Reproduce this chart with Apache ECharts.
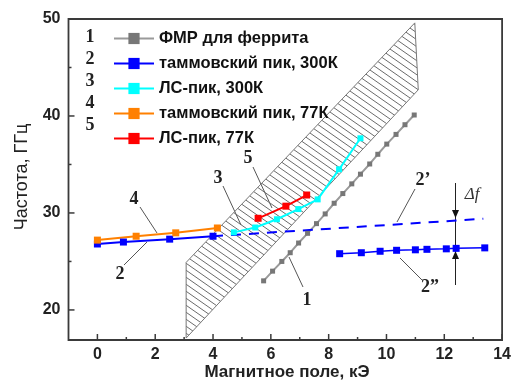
<!DOCTYPE html>
<html>
<head>
<meta charset="utf-8">
<script src="https://cdn.jsdelivr.net/npm/echarts@6/dist/echarts.min.js"></script>
<style>
  html, body { margin: 0; padding: 0; background: #fff; }
  #chart { width: 514px; height: 385px; }
</style>
</head>
<body>
<div id="chart"></div>
<script>
// 1 - FMR of ferrite
var fmrX = [5.75, 6.06, 6.38, 6.67, 6.96, 7.27, 7.58, 7.88, 8.19, 8.49, 8.80, 9.10, 9.42, 9.70, 10.01, 10.33, 10.64, 10.96];
var fmrY = [23.0, 24.0, 25.0, 25.9, 26.9, 27.9, 28.9, 29.9, 31.0, 32.0, 33.0, 34.0, 35.05, 36.05, 37.1, 38.1, 39.1, 40.1];
// 2 - Tamm peak 300K
var tamm300X = [0, 0.9, 2.5, 4.0];
var tamm300Y = [26.8, 27.0, 27.3, 27.6];
// 2' (dashed) and 2'' branches
var tammDashX = [4.0, 13.35];
var tammDashY = [27.6, 29.4];
var tammLowX = [8.38, 9.13, 9.78, 10.35, 11.0, 11.4, 12.07, 12.41, 13.4];
var tammLowY = [25.8, 25.9, 26.05, 26.15, 26.2, 26.25, 26.3, 26.35, 26.4];
// 3 - LS peak 300K
var ls300X = [4.72, 5.46, 6.21, 6.95, 7.62, 8.36, 9.1];
var ls300Y = [28.0, 28.5, 29.35, 30.4, 31.4, 34.5, 37.7];
// 4 - Tamm peak 77K
var tamm77X = [0, 1.34, 2.71, 4.15];
var tamm77Y = [27.2, 27.6, 27.95, 28.45];
// 5 - LS peak 77K
var ls77X = [5.56, 6.52, 7.24];
var ls77Y = [29.45, 30.7, 31.85];
// hatched band
var bandX = [3.07, 3.07, 10.98, 11.1];
var bandY = [17.1, 24.9, 49.6, 42.7];

var xMin = -1, xMax = 14, yMin = 16.9, yMax = 50;
var xLabels = [0, 2, 4, 6, 8, 10, 12, 14];
var xMinor = [1, 3, 5, 7, 9, 11, 13];
var yLabels = [20, 30, 40, 50];
var yMinor = [25, 35, 45];

var legendNames = ["ФМР для феррита", "таммовский пик, 300К", "ЛС-пик, 300К", "таммовский пик, 77К", "ЛС-пик, 77К"];

function pairs(xs, ys) {
  return xs.map(function (x, i) { return [x, ys[i]]; });
}

// hatch pattern
var hatch = document.createElement("canvas");
var hw = 10, hh = 7;
hatch.width = hw;
hatch.height = hh;
var hctx = hatch.getContext("2d");
hctx.strokeStyle = "#6a6a6a";
hctx.lineWidth = 1;
for (var k = -1; k <= 1; k++) {
  hctx.beginPath();
  hctx.moveTo(k * hw - hw, -hh);
  hctx.lineTo(k * hw + 2 * hw, 2 * hh);
  hctx.stroke();
}

var font = "Arial, 'Liberation Sans', sans-serif";
var serif = "'Liberation Serif', 'DejaVu Serif', serif";
var frameColor = "#3a3a3a";

var charts = echarts.init(document.getElementById("chart"));

function lineSeries(name, xs, ys, color, size, lw) {
  return {
    name: name,
    type: "line",
    data: pairs(xs, ys),
    symbol: "rect",
    symbolSize: size,
    showAllSymbol: true,
    itemStyle: { color: color },
    lineStyle: { color: color, width: lw },
    animation: false,
  };
}

var gray = lineSeries(legendNames[0], fmrX, fmrY, "#777", 5, 2);
gray.lineStyle.color = "#9a9a9a";

var labelStyle = { margin: 8, fontFamily: font, fontWeight: "bold", fontSize: 16, color: "#222" };

var axesOption = {
  animation: false,
  grid: { left: 68.5, right: 8, top: 19, bottom: 45 },
  xAxis: {
    type: "value",
    min: xMin,
    max: xMax,
    axisLine: { show: false, onZero: false },
    axisTick: { show: false },
    splitLine: { show: false },
    axisLabel: Object.assign({ customValues: xLabels }, labelStyle, { margin: 7 }),
  },
  yAxis: {
    type: "value",
    min: yMin,
    max: yMax,
    axisLine: { show: false, onZero: false },
    axisTick: { show: false },
    splitLine: { show: false },
    axisLabel: Object.assign({ customValues: yLabels }, labelStyle),
  },
};

// legend numbers, axis titles and in-plot annotations
var numStyle = { fontFamily: serif, fontWeight: "bold", fontSize: 18, fill: "#222" };
var g = [];
["1", "2", "3", "4", "5"].forEach(function (t, i) {
  g.push({ type: "text", x: 90, y: 37 + i * 22, style: Object.assign({ text: t, align: "center", verticalAlign: "middle" }, numStyle) });
});
g.push({ type: "text", x: 287, y: 372, style: { text: "Магнитное поле, кЭ", align: "center", verticalAlign: "middle", fontFamily: font, fontWeight: "bold", fontSize: 17, fill: "#222" } });
g.push({ type: "text", x: 22, y: 177, rotation: Math.PI / 2, style: { text: "Частота, ГГц", align: "center", verticalAlign: "middle", fontFamily: font, fontSize: 18, fill: "#222" } });
var notes = [
  { t: "1", x: 307, y: 300, l: [289, 257, 303, 287] },
  { t: "2", x: 120, y: 274, l: [124, 265, 147, 242] },
  { t: "3", x: 218, y: 178, l: [223, 186, 241, 225] },
  { t: "4", x: 134, y: 199, l: [140, 207, 157, 233] },
  { t: "5", x: 248, y: 158, l: [253, 167, 272, 208] },
  { t: "2’", x: 423, y: 180, l: [415, 189, 397, 222] },
  { t: "2”", x: 430, y: 287, l: [400, 258, 422, 280] },
];
notes.forEach(function (n) {
  g.push({ type: "line", shape: { x1: n.l[0], y1: n.l[1], x2: n.l[2], y2: n.l[3] }, style: { stroke: "#555", lineWidth: 1 } });
  g.push({ type: "text", x: n.x, y: n.y, style: Object.assign({ text: n.t, align: "center", verticalAlign: "middle" }, numStyle) });
});
// delta f marker
g.push({ type: "line", shape: { x1: 455.5, y1: 183, x2: 455.5, y2: 285 }, style: { stroke: "#222", lineWidth: 1 } });
g.push({ type: "polygon", shape: { points: [[452, 210], [459, 210], [455.5, 218]] }, style: { fill: "#111" } });
g.push({ type: "polygon", shape: { points: [[452, 259], [459, 259], [455.5, 251]] }, style: { fill: "#111" } });
g.push({ type: "text", x: 472, y: 195, style: { text: "Δf", align: "center", verticalAlign: "middle", fontFamily: serif, fontStyle: "italic", fontSize: 17, fill: "#333" } });

// first pass: axes only, so the frame and ticks can be placed through the scales
var frameParts = [];
try {
  charts.setOption(axesOption);
  var px = function (x, y) { return charts.convertToPixel({ xAxisIndex: 0, yAxisIndex: 0 }, [x, y]); };
  var p0 = px(xMin, yMin), p1 = px(xMax, yMax);
  var tickStyle = { stroke: frameColor, lineWidth: 1.5 };
  var xTick = function (v, len) {
    var p = px(v, yMin);
    frameParts.push({ type: "line", shape: { x1: p[0], y1: p[1], x2: p[0], y2: p[1] - len }, style: tickStyle });
  };
  var yTick = function (v, len) {
    var p = px(xMin, v);
    frameParts.push({ type: "line", shape: { x1: p[0], y1: p[1], x2: p[0] + len, y2: p[1] }, style: tickStyle });
  };
  xLabels.forEach(function (v) { xTick(v, 6); });
  xMinor.forEach(function (v) { xTick(v, 3); });
  yLabels.forEach(function (v) { yTick(v, 6); });
  yMinor.forEach(function (v) { yTick(v, 3); });
  frameParts.push({
    type: "rect",
    shape: { x: p0[0], y: p1[1], width: p1[0] - p0[0], height: p0[1] - p1[1] },
    style: { fill: "transparent", stroke: frameColor, lineWidth: 1.8 },
  });
  charts.setOption({ graphic: frameParts.concat(g) });
} catch (e) {
  console.log(e);
}

var Option = {
  legend: {
    data: legendNames,
    orient: "vertical",
    left: 108,
    top: 25,
    itemWidth: 40,
    itemHeight: 14,
    itemGap: 8,
    textStyle: { fontFamily: font, fontWeight: "bold", fontSize: 16.5, color: "#111" },
  },
  series: [
    {
      name: "band",
      type: "custom",
      silent: true,
      animation: false,
      data: [[bandX[0], bandY[0]]],
      renderItem: function (params, api) {
        var pts = bandX.map(function (x, i) { return api.coord([x, bandY[i]]); });
        return {
          type: "polygon",
          shape: { points: pts },
          style: { fill: { image: hatch, repeat: "repeat" }, stroke: "#777", lineWidth: 1 },
        };
      },
    },
    gray,
    {
      name: "2'",
      type: "line",
      data: pairs(tammDashX, tammDashY),
      symbol: "none",
      lineStyle: { color: "#0000ff", width: 2, type: [10, 8] },
      animation: false,
    },
    lineSeries(legendNames[1], tamm300X, tamm300Y, "#0000ff", 7, 2),
    lineSeries("2''", tammLowX, tammLowY, "#0000ff", 7, 1.5),
    lineSeries(legendNames[2], ls300X, ls300Y, "#00ffff", 6, 2),
    lineSeries(legendNames[3], tamm77X, tamm77Y, "#ff8000", 7, 2),
    lineSeries(legendNames[4], ls77X, ls77Y, "#ff0000", 7, 2),
  ],
};

charts.setOption(Option);
</script>
</body>
</html>
